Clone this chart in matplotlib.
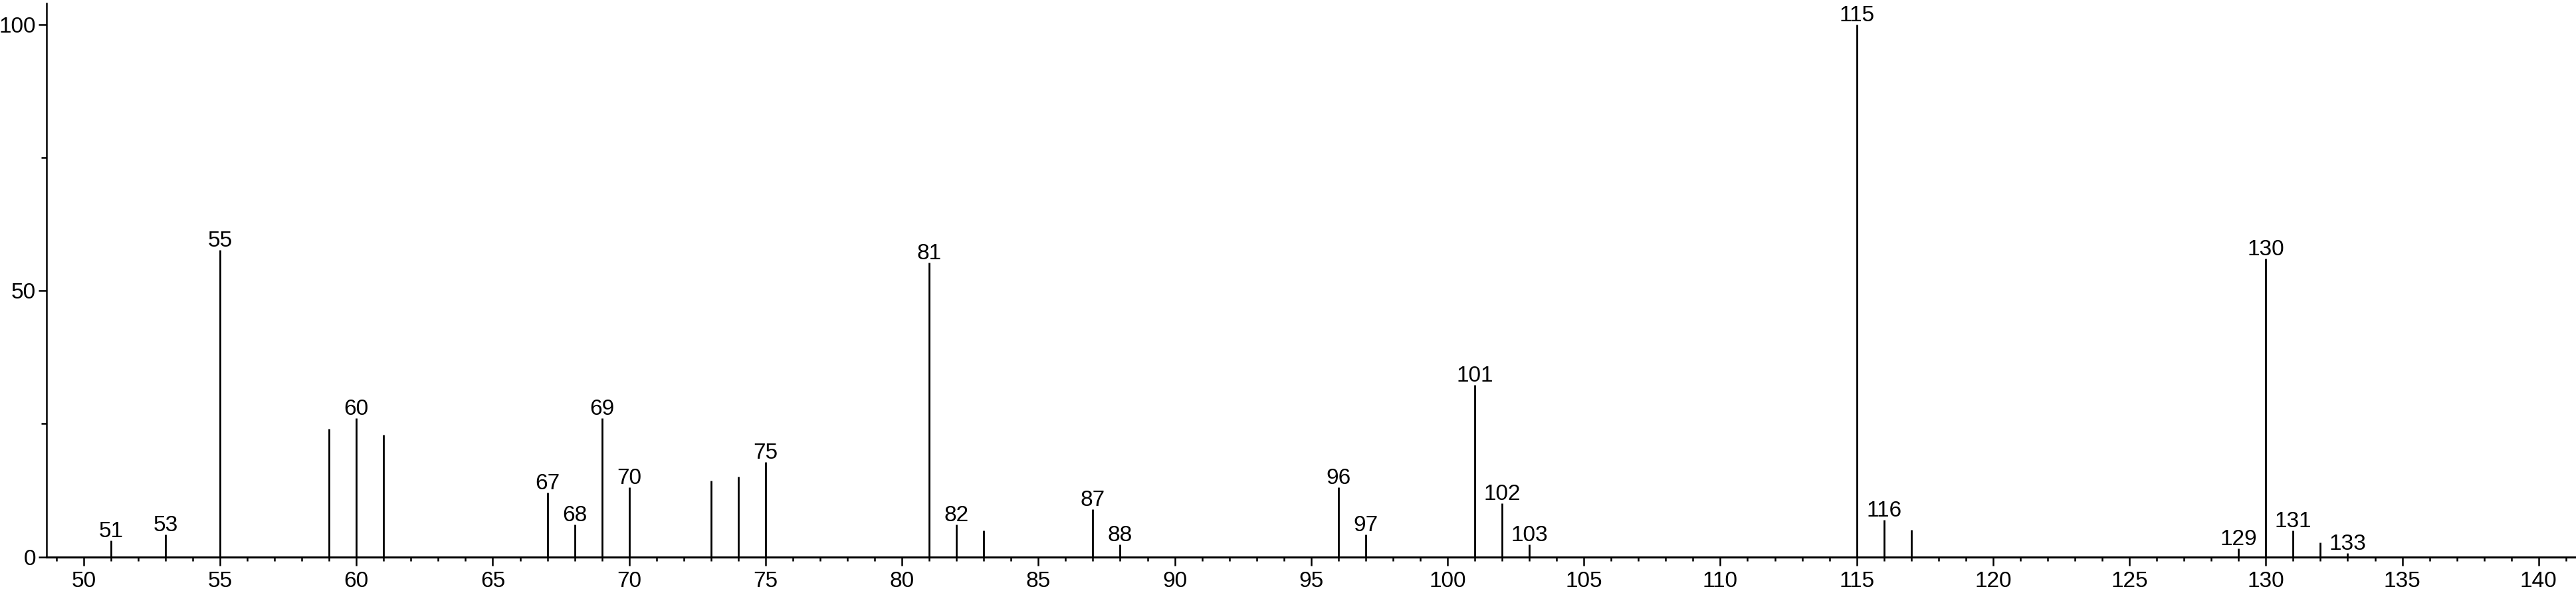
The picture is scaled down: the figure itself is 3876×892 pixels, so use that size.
"""Mass spectrum stick plot (relative intensity vs m/z)."""

import matplotlib
matplotlib.use("Agg")
import matplotlib.pyplot as plt
from matplotlib.ticker import MultipleLocator, FixedLocator

plt.rcParams["font.family"] = ["Liberation Sans", "DejaVu Sans"]

# peaks
mz = [51, 53, 55, 59, 60, 61, 67, 68, 69, 70, 73, 74, 75,
      81, 82, 83, 87, 88, 96, 97, 101, 102, 103,
      115, 116, 117, 129, 130, 131, 132, 133]
intensity = [3.0, 4.2, 57.7, 24.1, 26.0, 22.9, 12.0, 6.1, 26.0, 13.1, 14.3, 15.1, 17.8,
             55.3, 6.1, 4.9, 8.9, 2.3, 13.1, 4.2, 32.3, 10.1, 2.3,
             100.0, 6.9, 5.1, 1.5, 56.1, 4.9, 2.7, 0.7]
labelled = [51, 53, 55, 60, 67, 68, 69, 70, 75, 81, 82, 87, 88, 96, 97,
            101, 102, 103, 115, 116, 129, 130, 131, 133]

x_major = list(range(50, 141, 5))
y_major = [0, 50, 100]
y_minor = [25, 75]

W, H, DPI = 3876, 892, 100
fig = plt.figure(figsize=(W / DPI, H / DPI), dpi=DPI)
ax = fig.add_axes([70 / W, (H - 837.5) / H, 1 - 70 / W, (837.5 - 4.5) / H])

ax.vlines(mz, 0, intensity, color="black", linewidth=2.0)
for x, y in zip(mz, intensity):
    if x in labelled:
        ax.annotate(str(x), (x, y), xytext=(0, 3.6), textcoords="offset points",
                    ha="center", va="baseline", fontsize=24)

ax.set_xlim(48.64, 141.37)
ax.set_ylim(0, 104.1)

ax.xaxis.set_major_locator(FixedLocator(x_major))
ax.xaxis.set_minor_locator(MultipleLocator(1))
ax.yaxis.set_major_locator(FixedLocator(y_major))
ax.yaxis.set_minor_locator(FixedLocator(y_minor))

ax.tick_params(axis="x", which="major", length=9.2, width=1.8, direction="out",
               labelsize=24, pad=6.5)
ax.tick_params(axis="x", which="minor", length=4.3, width=1.8, direction="out")
ax.tick_params(axis="y", which="major", length=8.9, width=1.8, direction="out",
               labelsize=24, pad=2.5)
ax.tick_params(axis="y", which="minor", length=5.8, width=1.8, direction="out")

for side in ("top", "right"):
    ax.spines[side].set_visible(False)
ax.spines["left"].set_linewidth(1.8)
ax.spines["bottom"].set_linewidth(2.2)
ax.patch.set_alpha(0)

fig.savefig("out.png", dpi=DPI)
